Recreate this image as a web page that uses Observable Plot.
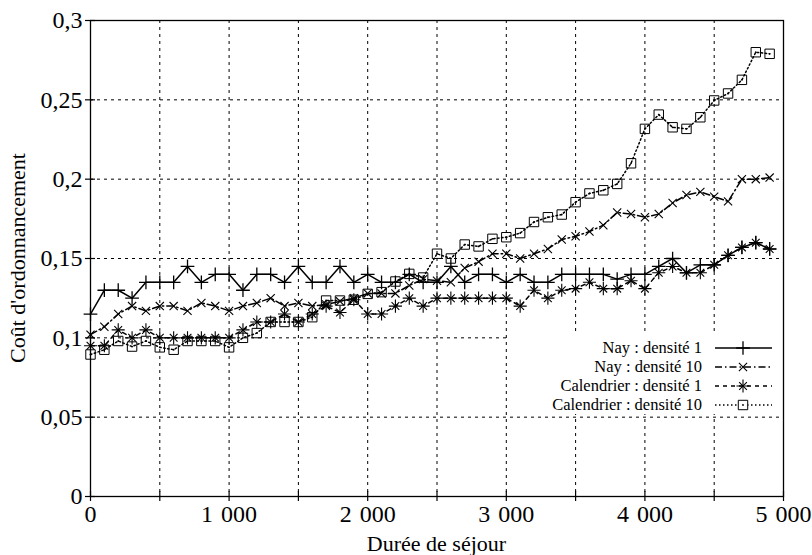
<!DOCTYPE html>
<html><head><meta charset="utf-8">
<script src="https://cdn.jsdelivr.net/npm/d3@7"></script>
<script src="https://cdn.jsdelivr.net/npm/@observablehq/plot@0.6"></script>
<style>body{margin:0;background:#fff} svg{display:block} svg text{font-family:"Liberation Serif","Times New Roman",serif}</style>
</head><body><div id="chart"></div>
<script>
const durees = [0,100,200,300,400,500,600,700,800,900,
  1000,1100,1200,1300,1400,1500,1600,1700,1800,1900,
  2000,2100,2200,2300,2400,2500,2600,2700,2800,2900,
  3000,3100,3200,3300,3400,3500,3600,3700,3800,3900,
  4000,4100,4200,4300,4400,4500,4600,4700,4800,4900];
const nayDensite1 = [0.115,0.130,0.130,0.125,0.135,0.135,0.135,0.145,0.135,0.140,
  0.140,0.130,0.140,0.140,0.135,0.145,0.135,0.135,0.145,0.135,
  0.140,0.135,0.135,0.140,0.135,0.135,0.145,0.135,0.140,0.140,
  0.135,0.140,0.135,0.135,0.140,0.140,0.140,0.140,0.137,0.140,
  0.140,0.145,0.150,0.141,0.146,0.146,0.152,0.157,0.160,0.156];
const nayDensite10 = [0.102,0.107,0.115,0.120,0.117,0.120,0.120,0.117,0.122,0.120,
  0.117,0.120,0.122,0.125,0.120,0.122,0.120,0.121,0.123,0.125,
  0.128,0.128,0.128,0.133,0.137,0.136,0.135,0.144,0.148,0.153,
  0.153,0.150,0.153,0.156,0.162,0.164,0.167,0.171,0.179,0.178,
  0.176,0.178,0.185,0.190,0.192,0.189,0.186,0.200,0.200,0.201];
const calendrierDensite1 = [0.095,0.095,0.105,0.100,0.105,0.100,0.100,0.100,0.100,0.100,
  0.100,0.105,0.110,0.110,0.115,0.110,0.115,0.120,0.116,0.124,
  0.115,0.115,0.120,0.125,0.120,0.125,0.125,0.125,0.125,0.125,
  0.125,0.120,0.130,0.125,0.130,0.131,0.135,0.131,0.131,0.136,
  0.131,0.141,0.145,0.141,0.141,0.146,0.152,0.157,0.160,0.156];
const calendrierDensite10 = [0.0895,0.0925,0.098,0.0945,0.098,0.094,0.0925,0.098,0.098,0.098,
  0.094,0.100,0.103,0.110,0.110,0.110,0.113,0.1235,0.1235,0.124,
  0.1277,0.1288,0.1355,0.1403,0.138,0.153,0.150,0.1588,0.1576,0.1624,
  0.1634,0.166,0.173,0.176,0.1777,0.1855,0.191,0.193,0.197,0.210,
  0.2317,0.2407,0.2327,0.2317,0.239,0.2496,0.254,0.2626,0.280,0.279];
const seriesNames = ["Nay : densité 1","Nay : densité 10","Calendrier : densité 1","Calendrier : densité 10"];
const yTicks = [0,0.05,0.1,0.15,0.2,0.25,0.3];
const xTicks = [0,500,1000,1500,2000,2500,3000,3500,4000,4500,5000];
const xTitle = "Durée de séjour";
const yTitle = "Coût d'ordonnancement";

const toRows = (arr) => durees.map((x, i) => ({x, y: arr[i]}));
const rNay1 = toRows(nayDensite1), rNay10 = toRows(nayDensite10),
      rCal1 = toRows(calendrierDensite1), rCal10 = toRows(calendrierDensite10);

const fmtY = d => String(+d.toFixed(2)).replace(".", ",");
const fmtX = d => d % 1000 === 0 ? d3.format(",")(d).replace(",", "\u2004") : "";

const dashes = ["none", "7,3,1.5,3", "4,4", "1.5,2.5"];
const lw = 1.5;
const ff = "Liberation Serif, Times New Roman, serif";

const chart = Plot.plot({
  width: 812, height: 555,
  marginLeft: 90, marginRight: 29, marginTop: 20, marginBottom: 59,
  style: {fontFamily: ff, fontSize: "24px", background: "white", color: "black"},
  x: {domain: [0, 5000]},
  y: {domain: [0, 0.3]},
  marks: [
    Plot.gridX(xTicks.slice(1, -1), {stroke: "black", strokeOpacity: 1, strokeWidth: 1, strokeDasharray: "3,4"}),
    Plot.gridY(yTicks.slice(1, -1), {stroke: "black", strokeOpacity: 1, strokeWidth: 1, strokeDasharray: "3,4"}),
    Plot.line(rNay1, {x: "x", y: "y", stroke: "black", strokeWidth: lw}),
    Plot.line(rNay10, {x: "x", y: "y", stroke: "black", strokeWidth: lw, strokeDasharray: dashes[1]}),
    Plot.line(rCal1, {x: "x", y: "y", stroke: "black", strokeWidth: lw, strokeDasharray: dashes[2]}),
    Plot.line(rCal10, {x: "x", y: "y", stroke: "black", strokeWidth: lw, strokeDasharray: dashes[3]}),
    Plot.dot(rNay1, {x: "x", y: "y", symbol: "plus", r: 4.5, stroke: "black", strokeWidth: 1.3}),
    Plot.dot(rNay10, {x: "x", y: "y", symbol: "times", r: 3.8, stroke: "black", strokeWidth: 1.1}),
    Plot.dot(rCal1, {x: "x", y: "y", symbol: "plus", r: 4.3, stroke: "black", strokeWidth: 1.1}),
    Plot.dot(rCal1, {x: "x", y: "y", symbol: "times", r: 3.6, stroke: "black", strokeWidth: 1.1}),
    Plot.dot(rCal10, {x: "x", y: "y", symbol: "square2", r: 6, stroke: "black", strokeWidth: 1, fill: "none"}),
    Plot.dot(rCal10, {x: "x", y: "y", r: 0.9, fill: "black", stroke: "none"}),
    Plot.frame({stroke: "black", strokeWidth: 1.3}),
    Plot.axisY(yTicks, {tickSize: 10, insetLeft: 5, tickPadding: 3, tickFormat: fmtY, label: null, strokeWidth: 1.2, fontSize: 24}),
    Plot.axisX(xTicks, {tickSize: 10, insetBottom: 5, tickPadding: 3, tickFormat: fmtX, label: null, strokeWidth: 1.2, fontSize: 24})
  ]
});
document.getElementById("chart").appendChild(chart);

const svg = d3.select(chart);
svg.append("text").attr("x", 436.5).attr("y", 551).attr("text-anchor", "middle")
  .style("font-family", ff).style("font-size", "22px").attr("fill", "black").text(xTitle);
svg.append("text").attr("transform", "translate(25,258) rotate(-90)").attr("text-anchor", "middle")
  .style("font-family", ff).style("font-size", "22px").attr("fill", "black").text(yTitle);

// legend
const lg = svg.append("g");
lg.append("rect").attr("x", 508).attr("y", 333).attr("width", 274).attr("height", 81).attr("fill", "white");
const rowsY = [348, 367, 386, 405];
seriesNames.forEach((name, i) => {
  const yy = rowsY[i];
  lg.append("text").attr("x", 702).attr("y", yy).attr("dy", "0.32em").attr("text-anchor", "end")
    .style("font-family", ff).style("font-size", "16.5px").attr("fill", "black").text(name);
  lg.append("line").attr("x1", 715).attr("x2", 772).attr("y1", yy).attr("y2", yy)
    .attr("stroke", "black").attr("stroke-width", lw)
    .attr("stroke-dasharray", dashes[i] === "none" ? null : dashes[i]);
  const g = lg.append("g").attr("transform", `translate(743,${yy})`).attr("fill", "none").attr("stroke", "black");
  const sym = (type, r) => d3.symbol(type, Math.PI * r * r)();
  if (i === 0) g.append("path").attr("d", sym(d3.symbolPlus, 4.5)).attr("stroke-width", 1.3);
  if (i === 1) g.append("path").attr("d", sym(d3.symbolTimes, 3.8)).attr("stroke-width", 1.1);
  if (i === 2) { g.append("path").attr("d", sym(d3.symbolPlus, 4.3)).attr("stroke-width", 1.1);
                 g.append("path").attr("d", sym(d3.symbolTimes, 3.6)).attr("stroke-width", 1.1); }
  if (i === 3) { g.append("path").attr("d", sym(d3.symbolSquare2, 6)).attr("fill", "white").attr("stroke-width", 1);
                 g.append("circle").attr("r", 0.9).attr("fill", "black").attr("stroke", "none"); }
});
</script></body></html>
